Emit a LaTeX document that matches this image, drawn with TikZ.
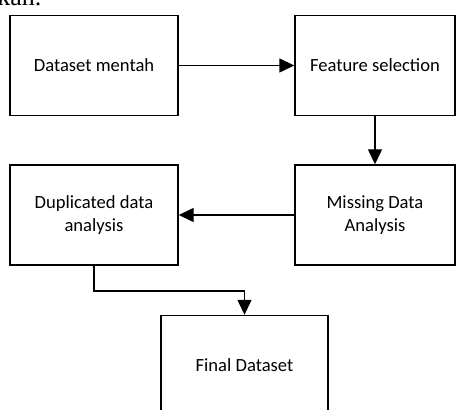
\documentclass[tikz,border=0pt]{standalone}
\usepackage{fontspec}
\setmainfont{Carlito}
\newfontfamily\timesfont{Liberation Serif}
\usetikzlibrary{arrows.meta,positioning}

\begin{document}
\begin{tikzpicture}[x=0.5pt,y=-0.5pt,
  box/.style={draw, line width=0.7pt, minimum width=84pt, minimum height=50pt, align=center, font=\fontsize{9.3}{11.8}\selectfont, inner sep=0pt},
  arr/.style={line width=0.7pt, -{Triangle[length=7.5pt,width=7pt]}}]
\clip (0,0) rectangle (456,410);
\node[anchor=base west, font=\timesfont\fontsize{13}{13}\selectfont, inner sep=0pt] (kan) at (-3,6) {kan.};
\node[box] (mentah) at (94,65.5) {Dataset mentah};
\node[box, minimum width=80pt] (fsel) at (375,65.5) {Feature selection};
\node[box, minimum width=80pt] (missing) at (375,215) {Missing Data\\Analysis};
\node[box] (dupl) at (94,215) {Duplicated data\\analysis};
\node[box, minimum width=83.5pt] (final) at (244.5,365.5) {Final Dataset};
\draw[arr] (mentah) -- (fsel);
\draw[arr] (fsel) -- (missing);
\draw[arr] (missing) -- (dupl);
\draw[arr] (dupl.south) -- ++(0,25.5) -| (final.north);
\end{tikzpicture}
\end{document}
